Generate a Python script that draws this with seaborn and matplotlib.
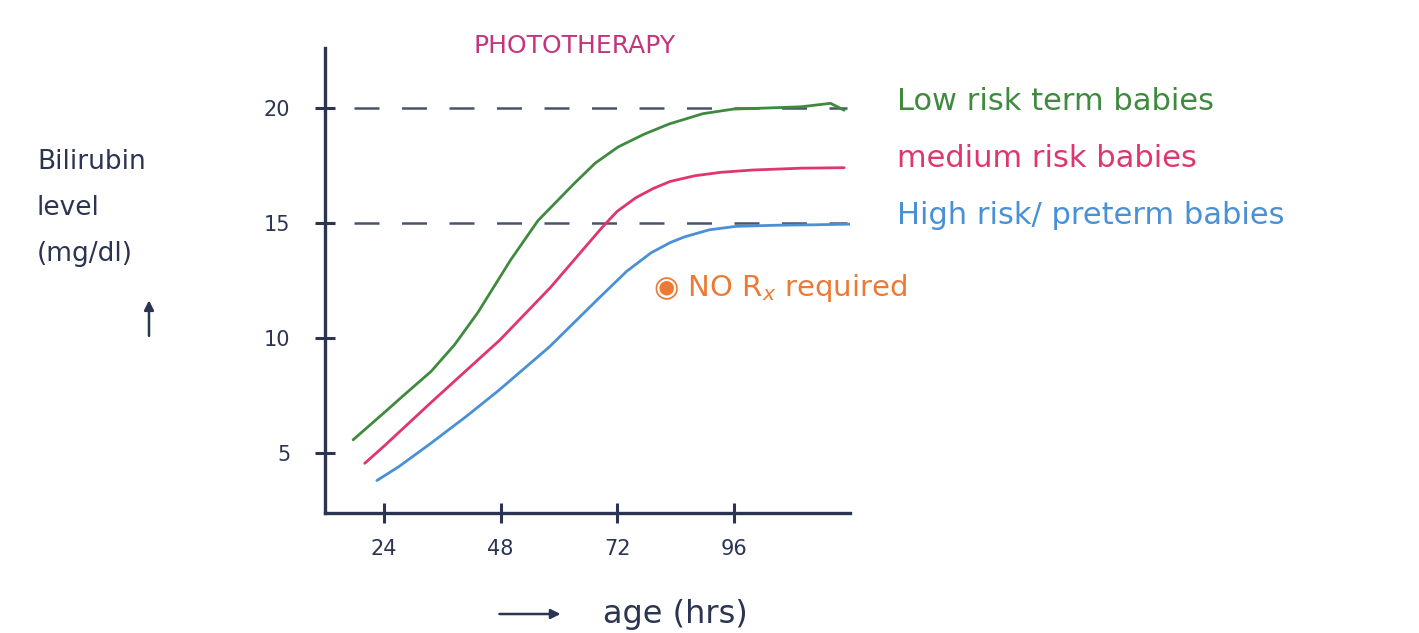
import numpy as np
import pandas as pd
import seaborn as sns
import matplotlib
matplotlib.use("Agg")
import matplotlib.pyplot as plt
from matplotlib.patches import FancyArrowPatch

# Phototherapy thresholds by age (hours) for three risk groups
low_hours = [17.6, 24, 28, 33.7, 38.5, 43.3, 50.1, 55.7, 63.1, 67.5, 72.2, 77.5, 82.7, 89.7, 96, 103.5, 110, 116, 118.8]
low_bili = [5.57, 6.75, 7.5, 8.55, 9.7, 11.1, 13.4, 15.1, 16.7, 17.6, 18.3, 18.85, 19.3, 19.75, 19.95, 20.0, 20.05, 20.2, 19.9]

med_hours = [20.0, 24, 33.7, 41, 47.8, 58.3, 68.9, 72, 75.9, 79.5, 82.9, 88, 93.4, 100, 110, 118.8]
med_bili = [4.55, 5.3, 7.2, 8.6, 9.9, 12.2, 14.8, 15.5, 16.1, 16.5, 16.8, 17.05, 17.2, 17.3, 17.38, 17.4]

high_hours = [22.5, 27, 33.5, 41, 47.5, 58.0, 68.6, 74, 79.0, 83, 86, 91, 96.5, 105, 113, 120.9]
high_bili = [3.8, 4.4, 5.4, 6.6, 7.7, 9.6, 11.8, 12.9, 13.7, 14.15, 14.4, 14.7, 14.85, 14.9, 14.92, 14.95]

groups = ["Low risk term babies", "medium risk babies", "High risk/ preterm babies"]
colors = ["#3f8a3f", "#e0356e", "#4a90d6"]

reference_levels = [20, 15]
y_ticks = [5, 10, 15, 20]
x_ticks = [24, 48, 72, 96]

df = pd.concat([
    pd.DataFrame({"age": low_hours, "bilirubin": low_bili, "group": groups[0]}),
    pd.DataFrame({"age": med_hours, "bilirubin": med_bili, "group": groups[1]}),
    pd.DataFrame({"age": high_hours, "bilirubin": high_bili, "group": groups[2]}),
])

sns.set_theme(style="white")
plt.rcParams["font.family"] = ["DejaVu Sans"]

fig = plt.figure(figsize=(14.19, 6.33), dpi=100)
ax = fig.add_axes([0.229, 0.19, 0.37, 0.734])

axis_col = "#2b3552"

for lvl in reference_levels:
    ax.axhline(lvl, xmin=0.055, xmax=0.995, color=axis_col, lw=1.8,
               dashes=(10, 9), alpha=0.85, zorder=1)

sns.lineplot(data=df, x="age", y="bilirubin", hue="group",
             palette=dict(zip(groups, colors)), sort=False,
             estimator=None, lw=2.0, legend=False, ax=ax, zorder=3)

ax.set_xlim(11.8, 120)
ax.set_ylim(2.4, 22.6)
ax.set_xticks(x_ticks)
ax.set_yticks(y_ticks)
ax.set_xticklabels([str(t) for t in x_ticks], fontsize=15, color=axis_col)
ax.set_yticklabels([str(t) for t in y_ticks], fontsize=15, color=axis_col)
ax.tick_params(axis="both", which="major", bottom=True, left=True,
               direction="inout", length=14, width=2.2,
               color=axis_col)
ax.tick_params(axis="x", pad=12)
ax.tick_params(axis="y", pad=18)
ax.set_xlabel("")
ax.set_ylabel("")

for side in ["top", "right"]:
    ax.spines[side].set_visible(False)
for side in ["left", "bottom"]:
    ax.spines[side].set_color(axis_col)
    ax.spines[side].set_linewidth(2.4)

# Title
fig.text(0.405, 0.928, "PHOTOTHERAPY", color="#c2357f", fontsize=18,
         ha="center", va="center")

# Group labels beside each curve's plateau
label_y = [0.84, 0.75, 0.66]
for g, c, yy in zip(groups, colors, label_y):
    fig.text(0.632, yy, g, color=c, fontsize=22, ha="left", va="center")

fig.text(0.46, 0.545, "◉ NO R$_x$ required", color="#ec7a35", fontsize=21,
         ha="left", va="center")

# Axis labels
fig.text(0.026, 0.672, "Bilirubin\nlevel\n(mg/dl)", color=axis_col,
         fontsize=19, ha="left", va="center", linespacing=2.0)
fig.add_artist(FancyArrowPatch(
    (0.105, 0.465), (0.105, 0.53), transform=fig.transFigure,
    arrowstyle="-|>", mutation_scale=14, lw=1.8, color=axis_col))
fig.add_artist(FancyArrowPatch(
    (0.35, 0.03), (0.397, 0.03), transform=fig.transFigure,
    arrowstyle="-|>", mutation_scale=14, lw=1.8, color=axis_col))
fig.text(0.425, 0.03, "age (hrs)", color=axis_col, fontsize=23,
         ha="left", va="center")

fig.savefig("out.png", dpi=100, facecolor="white")
